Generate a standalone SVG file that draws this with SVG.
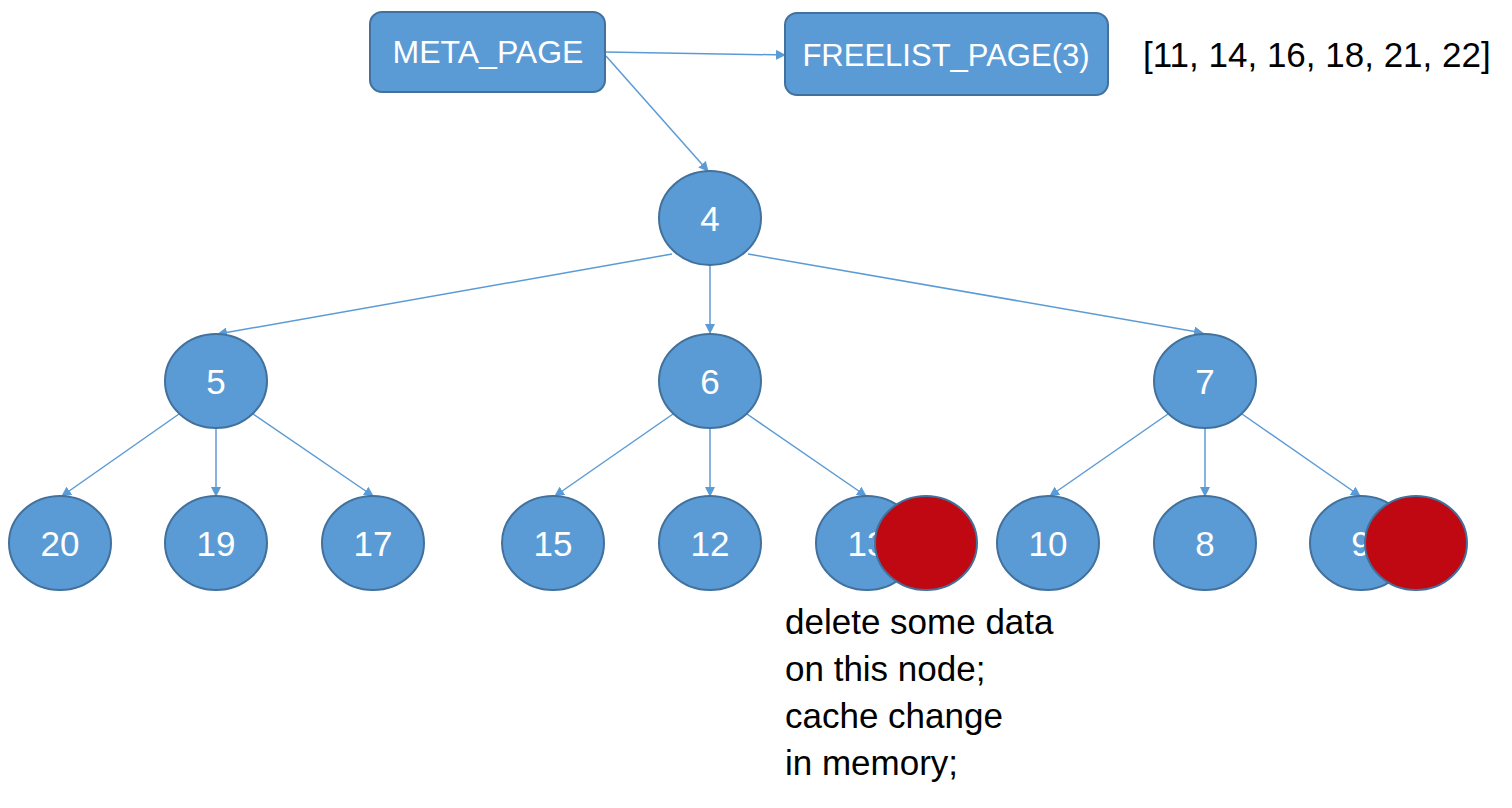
<svg xmlns="http://www.w3.org/2000/svg" width="1512" height="808" viewBox="0 0 1512 808">
<defs>
<marker id="ah" viewBox="0 0 10 10" refX="9" refY="5" markerWidth="10" markerHeight="10" markerUnits="userSpaceOnUse" orient="auto">
<path d="M0,0 L10,5 L0,10 Z" fill="#5B9BD5"/>
</marker>
<style>
.n{fill:#5B9BD5;stroke:#41719C;stroke-width:2}
.r{fill:#C00813;stroke:#41719C;stroke-width:2}
.t{font-family:"Liberation Sans",Arial,sans-serif;font-size:32px;fill:#fff;text-anchor:middle}
.d{font-size:35px}
.b{font-family:"Liberation Sans",Arial,sans-serif;font-size:35px;fill:#000}
.c line{stroke:#5B9BD5;stroke-width:1.5;marker-end:url(#ah)}
</style>
</defs>
<rect width="1512" height="808" fill="#fff"/>
<g class="c" id="connectors">
<line x1="605" y1="52" x2="785" y2="55"/>
<line x1="606" y1="56" x2="708" y2="171"/>
<line x1="672" y1="254" x2="218" y2="334"/>
<line x1="710" y1="265" x2="710" y2="333"/>
<line x1="748" y1="254" x2="1203" y2="333"/>
<line x1="179" y1="414" x2="62" y2="496"/>
<line x1="216" y1="428" x2="216" y2="496"/>
<line x1="253" y1="414" x2="373" y2="496"/>
<line x1="673" y1="414" x2="555" y2="496"/>
<line x1="710" y1="428" x2="710" y2="496"/>
<line x1="747" y1="414" x2="866" y2="496"/>
<line x1="1168" y1="414" x2="1050" y2="496"/>
<line x1="1205" y1="428" x2="1205" y2="496"/>
<line x1="1242" y1="414" x2="1360" y2="496"/>
</g>
<g id="meta"><rect class="n" x="370" y="12" width="235" height="80" rx="12"/><text class="t" x="488" y="63">META_PAGE</text></g>
<g id="freelist"><rect class="n" x="785" y="13" width="323" height="82" rx="12"/><text class="t" x="946" y="66" style="font-size:31px">FREELIST_PAGE(3)</text></g>
<g id="freelist-items"><text class="b" x="1143" y="67">[11, 14, 16, 18, 21, 22]</text></g>
<g id="n4"><ellipse class="n" cx="710" cy="218" rx="51" ry="47"/><text class="t d" x="710" y="231">4</text></g>
<g id="n5"><ellipse class="n" cx="216" cy="381" rx="51" ry="47"/><text class="t d" x="216" y="394">5</text></g>
<g id="n6"><ellipse class="n" cx="710" cy="381" rx="51" ry="47"/><text class="t d" x="710" y="394">6</text></g>
<g id="n7"><ellipse class="n" cx="1205" cy="381" rx="51" ry="47"/><text class="t d" x="1205" y="394">7</text></g>
<g id="n20"><ellipse class="n" cx="60" cy="543" rx="51" ry="47"/><text class="t d" x="60" y="556">20</text></g>
<g id="n19"><ellipse class="n" cx="216" cy="543" rx="51" ry="47"/><text class="t d" x="216" y="556">19</text></g>
<g id="n17"><ellipse class="n" cx="373" cy="543" rx="51" ry="47"/><text class="t d" x="373" y="556">17</text></g>
<g id="n15"><ellipse class="n" cx="553" cy="543" rx="51" ry="47"/><text class="t d" x="553" y="556">15</text></g>
<g id="n12"><ellipse class="n" cx="710" cy="543" rx="51" ry="47"/><text class="t d" x="710" y="556">12</text></g>
<g id="n13"><ellipse class="n" cx="867" cy="543" rx="51" ry="47"/><text class="t d" x="867" y="556">13</text></g>
<g id="m13"><ellipse class="r" cx="926" cy="543" rx="51" ry="47"/></g>
<g id="n10"><ellipse class="n" cx="1048" cy="543" rx="51" ry="47"/><text class="t d" x="1048" y="556">10</text></g>
<g id="n8"><ellipse class="n" cx="1205" cy="543" rx="51" ry="47"/><text class="t d" x="1205" y="556">8</text></g>
<g id="n9"><ellipse class="n" cx="1361" cy="543" rx="51" ry="47"/><text class="t d" x="1361" y="556">9</text></g>
<g id="m9"><ellipse class="r" cx="1416" cy="543" rx="51" ry="47"/></g>
<g id="note"><text class="b" x="785" y="634">delete some data</text><text class="b" x="785" y="681">on this node;</text><text class="b" x="785" y="728">cache change</text><text class="b" x="785" y="775">in memory;</text></g>
</svg>
